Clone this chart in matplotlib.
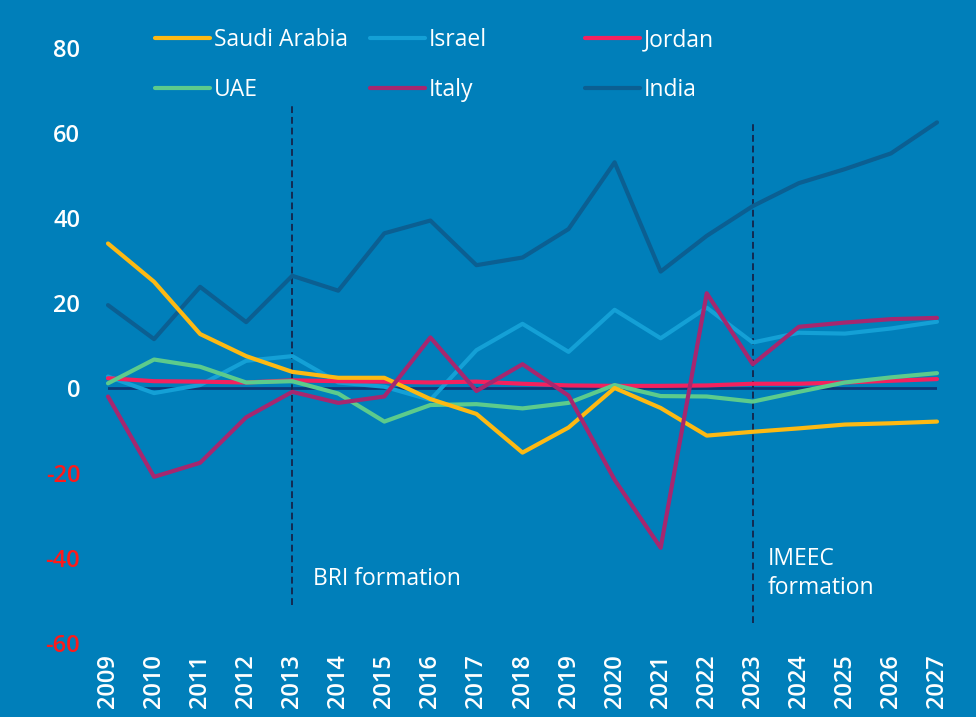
import numpy as np
import matplotlib
matplotlib.use("Agg")
import matplotlib.pyplot as plt
from matplotlib.lines import Line2D

plt.rcParams['font.family'] = ['Open Sans', 'DejaVu Sans']

years = list(range(2009, 2028))

saudi = [34, 25, 12.7, 7.5, 3.8, 2.4, 2.4, -2.6, -6.1, -15.2, -9.3, 0.0, -4.7,
         -11.2, -10.3, -9.5, -8.6, -8.3, -7.9]
israel = [2.7, -1.2, 0.7, 6.4, 7.5, 1.3, 0.3, -2.8, 8.9, 15.1, 8.5, 18.4, 11.7,
          18.9, 10.7, 13.0, 12.8, 14.0, 15.6]
jordan = [2.3, 1.6, 1.5, 1.3, 1.8, 1.6, 1.5, 1.3, 1.5, 1.0, 0.6, 0.5, 0.5,
          0.6, 1.0, 1.0, 1.3, 1.7, 2.1]
uae = [1.1, 6.7, 5.0, 1.3, 1.6, -1.3, -7.9, -4.0, -3.8, -4.8, -3.5, 0.7, -1.9,
       -2.0, -3.2, -0.9, 1.3, 2.5, 3.5]
italy = [-2.0, -20.9, -17.6, -6.9, -0.9, -3.5, -2.0, 11.9, -0.7, 5.6, -1.8,
         -21.6, -37.6, 22.3, 5.6, 14.4, 15.4, 16.2, 16.5]
india = [19.5, 11.5, 23.8, 15.5, 26.4, 22.9, 36.4, 39.4, 28.9, 30.7, 37.4, 53.1,
         27.4, 35.8, 42.8, 48.2, 51.5, 55.2, 62.5]

bg = '#007fba'
cols = {'Saudi Arabia': '#fdb913', 'Israel': '#14a0d6', 'Jordan': '#f5215e',
        'UAE': '#5ccb8c', 'Italy': '#a6276f', 'India': '#0b5f92'}

fig = plt.figure(figsize=(9.76, 7.17), dpi=100, facecolor=bg)
ax = fig.add_axes([108/976, 1-643/717, (937-108)/976, (643-48)/717])
ax.set_facecolor(bg)
ax.set_xlim(2009, 2027)
ax.set_ylim(-60, 80)
for s in ax.spines.values():
    s.set_visible(False)

ax.axhline(0, color='#0d3a78', lw=2, zorder=1)

series = [('India', india), ('Israel', israel), ('Jordan', jordan),
          ('UAE', uae), ('Saudi Arabia', saudi), ('Italy', italy)]
for name, vals in series:
    ax.plot(years, vals, color=cols[name], lw=3, solid_capstyle='round',
            clip_on=False, zorder=3)

# event markers
ax.vlines(2013, -51, 66.6, colors='#132a52', lw=1.4, linestyles=(0, (3.5, 2)), zorder=2)
ax.vlines(2023, -55.3, 62.6, colors='#132a52', lw=1.4, linestyles=(0, (3.5, 2)), zorder=2)
ax.text(2013.46, -44.9, 'BRI formation', color='white', fontsize=16.5,
        va='center', ha='left')
ax.text(2023.33, -43.6, 'IMEEC\nformation', color='white', fontsize=16.5,
        va='center', ha='left', linespacing=1.3)

ax.set_xticks(years)
ax.set_xticklabels([str(y) for y in years], rotation=90, color='white',
                   fontsize=17, fontweight='semibold')
yt = list(range(-60, 81, 20))
ax.set_yticks(yt)
ax.set_yticklabels([str(v) for v in yt], fontsize=17, fontweight='semibold')
for lab, v in zip(ax.get_yticklabels(), yt):
    lab.set_color('white' if v >= 0 else '#ff1a1a')
ax.tick_params(axis='y', length=0, pad=20)
ax.tick_params(axis='x', length=0, pad=8)

# legend: three fixed columns
groups = [['Saudi Arabia', 'UAE'], ['Israel', 'Italy'], ['Jordan', 'India']]
xs = [155, 370, 585]
for g, x0 in zip(groups, xs):
    handles = [Line2D([], [], color=cols[n], lw=3, solid_capstyle='round') for n in g]
    leg = fig.legend(handles, g, loc='upper left',
                     bbox_to_anchor=(x0/976, 1-28/717), frameon=False,
                     fontsize=16.5, handlelength=2.4, handletextpad=0.17,
                     labelspacing=1.13, borderaxespad=0, borderpad=0)
    for t in leg.get_texts():
        t.set_color('white')

fig.savefig('out.png', dpi=100, facecolor=bg)
